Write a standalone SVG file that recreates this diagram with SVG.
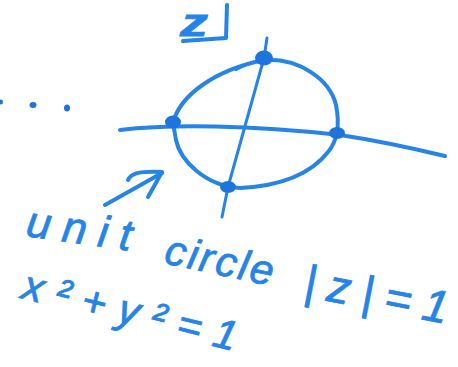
<svg xmlns="http://www.w3.org/2000/svg" width="458" height="367" viewBox="0 0 458 367">
<style>
.ink{fill:none;stroke:#2584e8;stroke-linecap:round;stroke-linejoin:round}
.dot{fill:#1c74dc}
.hw{font-family:"Liberation Sans","DejaVu Sans",sans-serif;fill:#2584e8;stroke:#2584e8;stroke-width:0.8;font-style:italic}
</style>
<rect width="458" height="367" fill="#ffffff"/>
<g id="plane-label">
<text class="hw" x="180" y="36" font-size="38" font-weight="bold" textLength="28" lengthAdjust="spacingAndGlyphs">z</text>
<path class="ink" d="M227,5 L226,38 L183,41" stroke-width="4"/>
</g>
<g id="axes">
<path class="ink" d="M120,130 C170,124 250,125 340,135 C380,141 420,150 445,156" stroke-width="4"/>
<path class="ink" d="M267,38 L264,58 L228,187 L222,217" stroke-width="3"/>
</g>
<g id="unit-circle">
<path class="ink" d="M173,123 C180,95 215,70 264,60 C300,58 330,80 336,105 C340,125 338,140 328,152 C310,175 280,186 240,188 C205,186 180,160 176,140 Z" stroke-width="4"/>
<path class="ink" d="M236,70 C245,65 252,62 258,61" stroke-width="2.5"/>
<ellipse class="dot" cx="173" cy="122" rx="8" ry="6.5"/>
<ellipse class="dot" cx="264" cy="58" rx="9" ry="7.5"/>
<ellipse class="dot" cx="337" cy="133" rx="8" ry="6"/>
<ellipse class="dot" cx="228" cy="187" rx="8" ry="6"/>
</g>
<g id="ellipsis">
<ellipse class="dot" cx="33" cy="105" rx="3.5" ry="3"/>
<ellipse class="dot" cx="67" cy="108" rx="3" ry="3.5"/>
<ellipse class="dot" cx="1" cy="102" rx="2" ry="2.5"/>
</g>
<g id="connectors">
<path class="ink" d="M105,205 L162,173" stroke-width="4"/>
<path class="ink" d="M128,180 C131,174 136,171 162,172 L148,197" stroke-width="4"/>
</g>
<g id="labels">
<text class="hw" font-size="44" x="25" y="236" transform="rotate(8 25 236)" textLength="106" lengthAdjust="spacing">unit</text>
<text class="hw" font-size="42" x="163" y="263" transform="rotate(12 163 263)" textLength="110" lengthAdjust="spacing">circle</text>
<text class="hw" font-size="46" x="302" y="296" transform="rotate(11 302 296)" textLength="146" lengthAdjust="spacing">|z|=1</text>
<text class="hw" font-size="42" x="20" y="298" transform="rotate(14 20 298)" textLength="220" lengthAdjust="spacing">x²+y²=1</text>
</g>
</svg>
